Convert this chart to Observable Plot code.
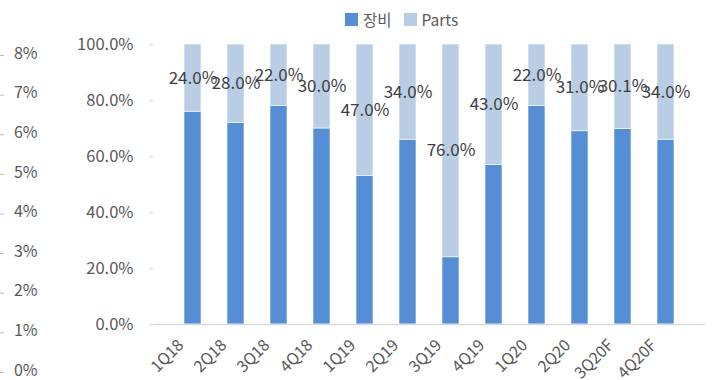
<!DOCTYPE html>
<html>
<head>
<meta charset="utf-8">
<script src="https://cdn.jsdelivr.net/npm/d3@7"></script>
<script src="https://cdn.jsdelivr.net/npm/@observablehq/plot@0.6"></script>
<style>
  html, body { margin: 0; padding: 0; background: #fff; }
  #wrap { position: relative; width: 716px; height: 380px; font-family: "Noto Sans CJK KR", "Noto Sans", sans-serif; }
  #wrap svg { position: absolute; top: 0; }
  #legend { position: absolute; top: 8px; left: 345px; display: flex; align-items: center; font-size: 15.5px; color: #595959; gap: 5px; }
  #legend .sw { width: 13px; height: 13px; display: inline-block; }
</style>
</head>
<body>
<div id="wrap"><div id="legend"></div></div>
<script>
const categories = ["1Q18","2Q18","3Q18","4Q18","1Q19","2Q19","3Q19","4Q19","1Q20","2Q20","3Q20F","4Q20F"];
const equipment = [76, 72, 78, 70, 53, 66, 24, 57, 78, 69, 69.9, 66];
const parts = [24, 28, 22, 30, 47, 34, 76, 43, 22, 31, 30.1, 34];
const seriesNames = ["장비", "Parts"];
const seriesColors = ["#558ED5", "#B9CDE5"];
const yTicks = [0, 0.2, 0.4, 0.6, 0.8, 1.0];
const leftTicks = [0, 0.01, 0.02, 0.03, 0.04, 0.05, 0.06, 0.07, 0.08];

const rows = [];
categories.forEach((c, i) => {
  rows.push({cat: c, series: seriesNames[0], value: equipment[i] / 100});
  rows.push({cat: c, series: seriesNames[1], value: parts[i] / 100});
});
const labels = categories.map((c, i) => ({cat: c, y: (equipment[i] + parts[i] / 2) / 100, text: parts[i].toFixed(1) + "%"}));

const main = Plot.plot({
  width: 716, height: 380,
  marginTop: 44, marginBottom: 56, marginLeft: 154, marginRight: 11,
  style: {fontFamily: "'Noto Sans CJK KR', 'Noto Sans', sans-serif", fontSize: "15px", color: "#595959", background: "transparent"},
  x: {domain: categories, padding: 0.6, label: null},
  y: {domain: [0, 1], label: null},
  color: {domain: seriesNames, range: seriesColors},
  marks: [
    Plot.barY(rows, {x: "cat", y: "value", fill: "series", stroke: "#ffffff", strokeWidth: 0.6, order: seriesNames}),
    Plot.ruleX([0], {frameAnchor: "left", stroke: "#d9d9d9", strokeWidth: 1.5}),
    Plot.ruleY([0], {stroke: "#d9d9d9", strokeWidth: 1.5}),
    Plot.axisY({ticks: yTicks, tickFormat: d3.format(".1%"), tickSize: 5, tickPadding: 16, stroke: "#d9d9d9", fill: "#595959", fontSize: 16.5, label: null}),
    Plot.axisX({tickSize: 0, tickRotate: -45, tickPadding: 18, fill: "#595959", fontSize: 16, label: null, dx: -12}),
    Plot.text(labels, {x: "cat", y: "y", text: "text", fill: "#404040", fontSize: 17})
  ]
});
document.getElementById("wrap").appendChild(main);

const left = Plot.plot({
  width: 60, height: 380,
  marginTop: 53, marginBottom: 10, marginLeft: 4, marginRight: 0,
  style: {fontFamily: "'Noto Sans CJK KR', 'Noto Sans', sans-serif", background: "transparent"},
  y: {domain: [0, 0.08], label: null},
  marks: [
    Plot.axisY({ticks: leftTicks, tickSize: 4, text: null, stroke: "#bfbfbf", label: null, dy: 2}),
    Plot.axisY({ticks: leftTicks, tickSize: 0, tickFormat: d3.format(".0%"), dx: 42, fill: "#595959", fontSize: 16, label: null})
  ]
});
left.style.left = "0px";
document.getElementById("wrap").appendChild(left);

const lg = document.getElementById("legend");
seriesNames.forEach((n, i) => {
  const sw = document.createElement("span");
  sw.className = "sw";
  sw.style.background = seriesColors[i];
  const t = document.createElement("span");
  t.textContent = n;
  t.style.marginRight = i === 0 ? "7px" : "0";
  lg.appendChild(sw);
  lg.appendChild(t);
});
</script>
</body>
</html>
